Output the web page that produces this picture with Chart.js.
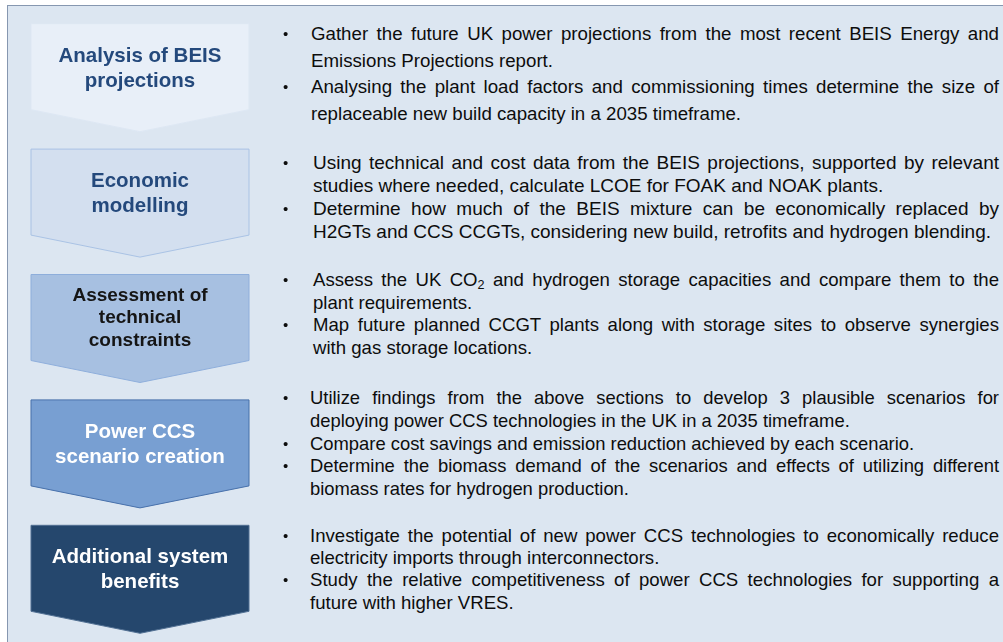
<!DOCTYPE html>
<html>
<head>
<meta charset="utf-8">
<script src="https://cdn.jsdelivr.net/npm/chart.js@4.4.1/dist/chart.umd.min.js"></script>
<style>
  html, body { margin:0; padding:0; background:#ffffff; }
  body { width:1003px; height:642px; position:relative; overflow:hidden; }
  #frame { position:absolute; left:7px; top:5px; width:1010px; height:650px; background:#dce6f1; border:1.5px solid #8697b0; box-sizing:border-box; }
  #chartBox { position:absolute; left:0; top:0; width:280px; height:642px; }
  .lbl { position:absolute; transform:translate(-50%,-50%); text-align:center; font-family:"Liberation Sans", Arial, sans-serif; font-weight:bold; white-space:nowrap; }
  .ln { position:absolute; white-space:nowrap; color:#0d0d0d; font-family:"Liberation Sans", Arial, sans-serif; text-align:justify; }
  .ln.j { text-align-last:justify; }
  .ln.l { text-align-last:left; }
  .bul { position:absolute; font-family:"Liberation Sans", Arial, sans-serif; font-size:15px; color:#0d0d0d; }
  sub { font-size:0.68em; vertical-align:-0.22em; line-height:0; }
</style>
</head>
<body>
<div id="frame"></div>
<div id="chartBox"><canvas id="c" width="280" height="642"></canvas></div>
<div id="labels"></div>
<div id="text"></div>
<script>
// ---- data ----
const stages = [
  "Analysis of BEIS projections",
  "Economic modelling",
  "Assessment of technical constraints",
  "Power CCS scenario creation",
  "Additional system benefits"
];
const stageLabelLines = [
  ["Analysis of BEIS", "projections"],
  ["Economic", "modelling"],
  ["Assessment of", "technical", "constraints"],
  ["Power CCS", "scenario creation"],
  ["Additional system", "benefits"]
];
const stageSpan = [1, 1, 1, 1, 1]; // each stage spans the full step column

const bullets1 = [
  ["Gather the future UK power projections from the most recent BEIS Energy and", "Emissions Projections report."],
  ["Analysing the plant load factors and commissioning times determine the size of", "replaceable new build capacity in a 2035 timeframe."]
];
const bullets2 = [
  ["Using technical and cost data from the BEIS projections, supported by relevant", "studies where needed, calculate LCOE for FOAK and NOAK plants."],
  ["Determine how much of the BEIS mixture can be economically replaced by", "H2GTs and CCS CCGTs, considering new build, retrofits and hydrogen blending."]
];
const bullets3 = [
  ["Assess the UK CO<sub>2</sub> and hydrogen storage capacities and compare them to the", "plant requirements."],
  ["Map future planned CCGT plants along with storage sites to observe synergies", "with gas storage locations."]
];
const bullets4 = [
  ["Utilize findings from the above sections to develop 3 plausible scenarios for", "deploying power CCS technologies in the UK in a 2035 timeframe."],
  ["Compare cost savings and emission reduction achieved by each scenario."],
  ["Determine the biomass demand of the scenarios and effects of utilizing different", "biomass rates for hydrogen production."]
];
const bullets5 = [
  ["Investigate the potential of new power CCS technologies to economically reduce", "electricity imports through interconnectors."],
  ["Study the relative competitiveness of power CCS technologies for supporting a", "future with higher VRES."]
];

// ---- styles ----
const fills   = ["#e8eff8", "#d3dfef", "#a7c0e1", "#789fd2", "#25476d"];
const borders = ["#dde7f3", "#a9c2e4", "#8eaedb", "#4770aa", "#506f92"];
const labelColors = ["#24497c", "#24497c", "#151515", "#ffffff", "#ffffff"];
const labelFont = [[20.5,25],[20.5,25],[19,22.5],[20.5,25],[20.5,25]];
const shoulderDepth = 22;

// ---- chevron plugin ----
const chevronPlugin = {
  id: 'chevrons',
  beforeDatasetDraw(chart, args) {
    const ctx = chart.ctx;
    const meta = args.meta;
    const holder = document.getElementById('labels');
    holder.innerHTML = '';
    meta.data.forEach((el, i) => {
      const p = el.getProps(['x','y','base','height'], true);
      const left = Math.min(p.x, p.base), right = Math.max(p.x, p.base);
      const top = p.y - p.height/2, tip = p.y + p.height/2, sh = tip - shoulderDepth;
      const mid = (left + right)/2;
      ctx.save();
      ctx.beginPath();
      ctx.moveTo(left, top);
      ctx.lineTo(right, top);
      ctx.lineTo(right, sh);
      ctx.lineTo(mid, tip);
      ctx.lineTo(left, sh);
      ctx.closePath();
      ctx.fillStyle = fills[i];
      ctx.fill();
      ctx.lineWidth = 1;
      ctx.strokeStyle = borders[i];
      ctx.stroke();
      ctx.restore();
      const d = document.createElement('div');
      d.className = 'lbl';
      d.style.left = mid + 'px';
      d.style.top = ((top + sh)/2) + 'px';
      d.style.color = labelColors[i];
      d.style.fontSize = labelFont[i][0] + 'px';
      d.style.lineHeight = labelFont[i][1] + 'px';
      d.innerHTML = stageLabelLines[i].join('<br>');
      holder.appendChild(d);
    });
    return false;
  }
};

new Chart(document.getElementById('c'), {
  type: 'bar',
  data: { labels: stages, datasets: [{ data: stageSpan, barThickness: 108 }] },
  options: {
    indexAxis: 'y',
    responsive: false,
    animation: false,
    events: [],
    layout: { padding: { left: 31, right: 31, top: 15, bottom: 0 } },
    plugins: { legend: { display: false }, tooltip: { enabled: false } },
    scales: {
      x: { display: false, min: 0, max: 1 },
      y: { display: false, grid: { display: false } }
    }
  },
  plugins: [chevronPlugin]
});

// ---- bullet text ----
const textBox = document.getElementById('text');
const blocks = [
  { items: bullets1, x: 311, y0: 34, lh: 26.5, fs: 18.7 },
  { items: bullets2, x: 313, y0: 162.5, lh: 23, fs: 19 },
  { items: bullets3, x: 313, y0: 280, lh: 22.5, fs: 18.6 },
  { items: bullets4, x: 310, y0: 398, lh: 22.75, fs: 18.4 },
  { items: bullets5, x: 310, y0: 536, lh: 22.2, fs: 18.6 }
];
const rightEdge = 999;
blocks.forEach(b => {
  let k = 0;
  b.items.forEach(lines => {
    const by = b.y0 + k * b.lh;
    const bu = document.createElement('div');
    bu.className = 'bul';
    bu.textContent = '\u2022';
    bu.style.left = '283px';
    bu.style.top = (by - 8) + 'px';
    bu.style.lineHeight = '16px';
    textBox.appendChild(bu);
    lines.forEach((t, li) => {
      const cy = b.y0 + k * b.lh;
      const d = document.createElement('div');
      d.className = 'ln ' + (li < lines.length - 1 ? 'j' : 'l');
      const w = rightEdge - b.x;
      d.style.left = b.x + 'px';
      d.style.top = (cy - 12) + 'px';
      d.style.height = '24px';
      d.style.lineHeight = '24px';
      d.style.width = w + 'px';
      d.style.fontSize = b.fs + 'px';
      d.innerHTML = t;
      textBox.appendChild(d);
      let fs = b.fs;
      while (d.scrollWidth > w + 0.5 && fs > 15) {
        fs -= 0.1;
        d.style.fontSize = fs + 'px';
      }
      k++;
    });
  });
});
</script>
</body>
</html>
